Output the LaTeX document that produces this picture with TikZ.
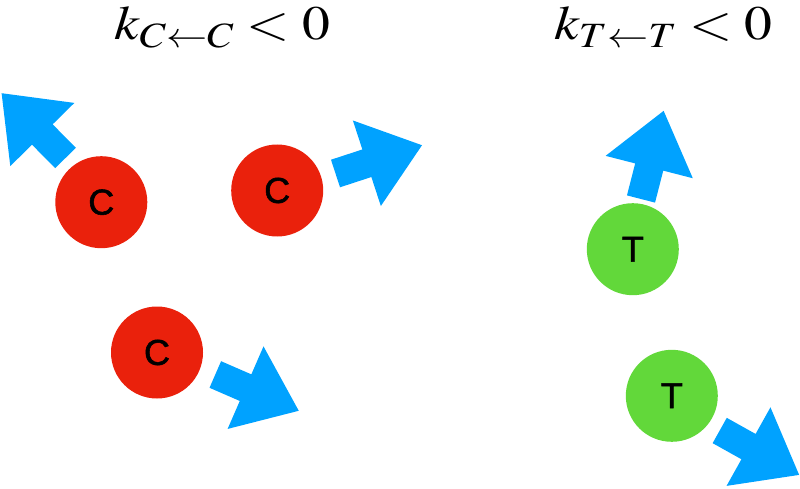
\documentclass[tikz,border=0pt]{standalone}
\usepackage{mathptmx}
\usepackage{fontspec}
\newfontfamily\labelfont[FakeBold=1.5]{Liberation Sans}
\definecolor{cred}{RGB}{234,33,12}
\definecolor{cgreen}{RGB}{98,216,58}
\definecolor{cblue}{RGB}{0,162,255}
\tikzset{
  ball/.style={circle, minimum size=92pt, inner sep=0pt, font=\labelfont\fontsize{36}{40}\selectfont, text=black},
  cball/.style={ball, fill=cred},
  tball/.style={ball, fill=cgreen},
  title/.style={anchor=base, inner sep=0pt, xscale=1.16, font=\fontsize{48}{56}\selectfont},
  blockarrow/.style={fill=cblue}
}
\newcommand\blockarr[2]{%
  \fill[blockarrow, shift={(#1)}, rotate=#2]
    (0,-14.5) -- (33,-14.5) -- (33,-45) -- (91,0) -- (33,45) -- (33,14.5) -- (0,14.5) -- cycle;}
\begin{document}
\begin{tikzpicture}[x=1pt,y=1pt]
\useasboundingbox (0,0) rectangle (800,488);
\node[title] (t1) at (222.5,448) {$k_{C\leftarrow C} < 0$};
\node[title] (t2) at (663.5,448) {$k_{T\leftarrow T} < 0$};
\node[cball] (c1) at (101.3,285.8) {C};
\node[cball] (c2) at (277.2,297.5) {C};
\node[cball] (c3) at (157,135.5) {C};
\node[tball] (tt1) at (632.8,238.8) {T};
\node[tball] (tt2) at (671.8,92.2) {T};
\coordinate (a1) at (65.5,330);
\coordinate (a2) at (335.5,314.5);
\coordinate (a3) at (215.3,113.5);
\coordinate (a4) at (641,289);
\coordinate (a5) at (719.7,57.5);
\blockarr{a1}{134.6}
\blockarr{a2}{18.1}
\blockarr{a3}{-23.5}
\blockarr{a4}{75.6}
\blockarr{a5}{-29.2}
\end{tikzpicture}
\end{document}
